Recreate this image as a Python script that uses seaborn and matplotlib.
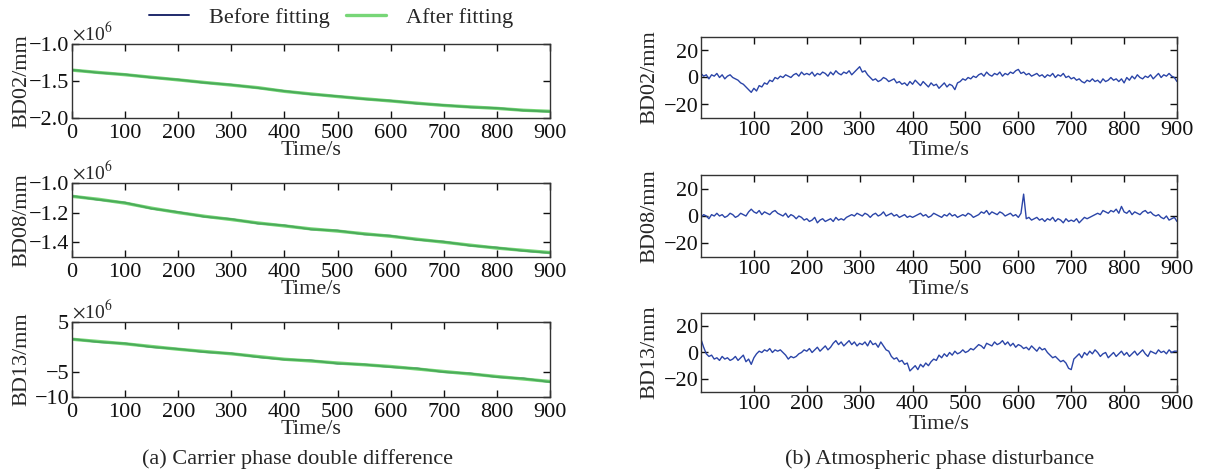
import numpy as np
import pandas as pd
import matplotlib
matplotlib.use("Agg")
import matplotlib.pyplot as plt
import seaborn as sns

# ---------------- data ----------------
# Left column: carrier phase double difference (units of 1e6 mm), sampled every 50 s
t_fit = list(range(0, 901, 50))
bd02_after = [-1.353, -1.385, -1.415, -1.45, -1.485, -1.52, -1.555, -1.59, -1.64, -1.675,
              -1.71, -1.74, -1.77, -1.80, -1.83, -1.85, -1.87, -1.895, -1.91]
bd02_before = [-1.350, -1.388, -1.412, -1.453, -1.482, -1.524, -1.551, -1.594, -1.636, -1.679,
               -1.706, -1.744, -1.767, -1.804, -1.826, -1.854, -1.866, -1.898, -1.913]
bd08_after = [-1.09, -1.11, -1.136, -1.17, -1.20, -1.225, -1.247, -1.27, -1.29, -1.31,
              -1.325, -1.343, -1.36, -1.38, -1.40, -1.42, -1.44, -1.455, -1.47]
bd08_before = [-1.088, -1.113, -1.133, -1.173, -1.197, -1.228, -1.244, -1.273, -1.287, -1.313,
               -1.322, -1.346, -1.357, -1.383, -1.397, -1.423, -1.437, -1.458, -1.472]
bd13_after = [1.55, 1.1, 0.64, 0.1, -0.45, -0.9, -1.36, -1.9, -2.45, -2.8,
              -3.2, -3.55, -3.9, -4.4, -4.9, -5.4, -5.9, -6.4, -6.9]
bd13_before = [1.6, 1.0, 0.7, 0.0, -0.4, -1.0, -1.3, -2.0, -2.5, -2.7,
               -3.3, -3.5, -4.0, -4.3, -5.0, -5.3, -6.0, -6.3, -7.0]

# Right column: atmospheric phase disturbance (mm), sampled every 5 s
t_atm = list(range(0, 901, 5))
bd02_atm = [3, 1, 2, -1, 2, 1, 3, 0, 2, -1, 1, 2, 0, -1, -2, -4, -5, -7, -9, -11,
            -8, -10, -6, -7, -4, -5, -2, -3, 0, -1, 1, 0, 2, 1, 0, 2, 3, 1, 4, 2,
            3, 2, 4, 1, 3, 2, 4, 3, 1, 4, 2, 5, 3, 2, 4, 3, 5, 2, 4, 6,
            8, 4, 5, 2, 0, -2, -1, -3, -2, 0, -1, -3, -2, -1, -4, -3, -5, -4, -6, -3,
            -5, -2, -4, -6, -3, -5, -7, -4, -6, -5, -8, -6, -4, -7, -5, -6, -9, -4, -3, -1,
            -2, 0, -1, 1, 0, 2, 3, 1, 4, 2, 1, 3, 2, 4, 1, 3, 2, 4, 3, 5,
            6, 3, 4, 2, 3, 1, 2, 3, 1, 2, 0, 2, 1, 3, 0, 2, 1, 3, 0, 1,
            -1, 0, -2, -1, -3, -4, -2, -3, -1, -3, -2, -4, -1, -3, -2, 0, -2, -1, -3, -1,
            -4, 0, -2, 1, -1, 2, 0, -1, 1, 0, 2, -1, 1, 3, 0, 2, 1, 3, 1, 0,
            -3]
bd08_atm = [-1, 1, 0, -2, 1, 0, 2, 0, 1, -1, 0, 2, 1, -1, 0, 2, 1, 0, 3, 5,
            3, 2, 4, 1, 3, 2, 1, 3, 4, 2, 1, 0, 2, -1, 1, 0, -2, 0, -1, -3,
            -2, -4, -3, -1, -5, -3, -2, -4, -3, -2, -4, -1, -3, -2, -3, -1, 0, 1, 0, 2,
            1, 0, 2, 1, -1, 1, 2, 0, 1, 3, 0, 1, 2, 0, 1, -1, 0, 1, -1, 0,
            -1, 0, 1, 2, 0, 1, -1, 0, 2, 1, 0, -1, 1, 0, 2, 0, 1, -1, 0, 1,
            0, 2, 1, -1, 0, 1, 3, 2, 4, 1, 3, 2, 1, 3, 2, 0, 1, 2, 0, 1,
            -1, 2, 16, -2, -1, -3, -2, -1, -3, -2, -4, -2, -3, -1, -4, -2, -3, -5, -2, -4,
            -3, -4, -2, -5, -3, -1, -2, -1, 0, 1, 2, 1, 4, 3, 2, 4, 3, 5, 2, 7,
            3, 2, 4, 1, 3, 2, 1, 3, 4, 2, 3, 1, 0, 1, -1, -2, 0, -3, -2, -1,
            -4]
bd13_atm = [10, 4, -1, -3, -2, -5, -4, -6, -3, -5, -4, -6, -5, -3, -6, -4, -2, -7, -5, -9,
            -4, -1, 1, 0, 2, 1, 3, 0, 2, 1, 2, 0, -2, -5, -3, -4, -3, -1, 0, 2,
            1, 3, 0, 2, 4, 1, 3, 5, 2, 4, 7, 9, 6, 8, 5, 7, 9, 6, 8, 5,
            7, 6, 8, 5, 9, 6, 7, 4, 8, 5, 2, 1, -3, -5, -4, -7, -6, -9, -8, -14,
            -12, -10, -13, -9, -11, -8, -10, -7, -5, -6, -2, -4, -1, -3, 0, -2, 1, -1, 0, 2,
            0, 1, 3, 2, 4, 6, 5, 3, 7, 6, 5, 8, 6, 7, 9, 6, 8, 5, 7, 4,
            6, 5, 3, 4, 2, 5, 3, 1, 4, 2, 3, 0, -2, -4, -3, -5, -7, -6, -8, -12,
            -13, -5, -3, -1, -4, 0, -2, 1, -1, 2, 0, -3, -1, 0, -4, -2, 0, -3, -1, 1,
            -2, 0, -3, -1, 1, -2, 0, 2, -1, -3, 1, 0, -1, 2, 0, 1, -1, 2, 0, 1,
            1]

names = ["BD02", "BD08", "BD13"]
left_before = [bd02_before, bd08_before, bd13_before]
left_after = [bd02_after, bd08_after, bd13_after]
right_series = [bd02_atm, bd08_atm, bd13_atm]
left_ylims = [(-2.0, -1.0), (-1.5, -1.0), (-10, 5)]
left_yticks = [[-2.0, -1.5, -1.0], [-1.4, -1.2, -1.0], [-10, -5, 5]]
left_yticklabels = [["\u22122.0", "\u22121.5", "\u22121.0"],
                    ["\u22121.4", "\u22121.2", "\u22121.0"],
                    ["\u221210", "\u22125", "5"]]
x_ticks_left = [0, 100, 200, 300, 400, 500, 600, 700, 800, 900]
x_ticks_right = [100, 200, 300, 400, 500, 600, 700, 800, 900]
right_yticks = [-20, 0, 20]

legend_labels = ["Before fitting", "After fitting"]
caption_a = "(a) Carrier phase double difference"
caption_b = "(b) Atmospheric phase disturbance"

# ---------------- style ----------------
sns.set_style("ticks")
plt.rcParams["font.family"] = ["Liberation Serif", "DejaVu Serif"]
plt.rcParams["mathtext.fontset"] = "stix"
plt.rcParams["axes.unicode_minus"] = True
FS = 16

W, H = 1210, 473
fig = plt.figure(figsize=(W / 100, H / 100), dpi=100)

def px_axes(x0, y0, x1, y1):
    return fig.add_axes([x0 / W, 1 - y1 / H, (x1 - x0) / W, (y1 - y0) / H])

left_rows = [(44, 118), (183, 257), (322, 397)]
right_rows = [(37, 118), (175, 257), (313, 392)]

c_before = "#1f2a6b"
c_after = "#55cc55"
c_atm = "#2b45a8"

def style_axes(ax, xpad=2, lpad=1):
    for s in ax.spines.values():
        s.set_color("#333333")
        s.set_linewidth(1.0)
    ax.tick_params(direction="in", top=True, right=True, length=5, width=1,
                   labelsize=FS, pad=2, colors="#111111")
    ax.tick_params(axis="x", pad=xpad)
    ax.set_xlabel("Time/s", fontsize=FS, labelpad=lpad)

for i in range(3):
    # left column
    y0, y1 = left_rows[i]
    ax = px_axes(72, y0, 550, y1)
    df = pd.DataFrame({"t": t_fit, "before": left_before[i], "after": left_after[i]})
    sns.lineplot(data=df, x="t", y="before", ax=ax, color=c_before, lw=1.4,
                 label=legend_labels[0] if i == 0 else None, legend=False)
    sns.lineplot(data=df, x="t", y="after", ax=ax, color=c_after, lw=2.4, alpha=0.8,
                 label=legend_labels[1] if i == 0 else None, legend=False)
    ax.set_xlim(0, 900)
    ax.set_ylim(*left_ylims[i])
    ax.set_xticks(x_ticks_left)
    ax.set_yticks(left_yticks[i])
    ax.set_yticklabels(left_yticklabels[i])
    style_axes(ax, xpad=4, lpad=-1)
    ax.set_ylabel(f"{names[i]}/mm", fontsize=FS)
    ax.yaxis.set_label_coords(-0.086, 0.5)
    ax.text(0.0, 1.0, r"$\times$10$^{6}$", transform=ax.transAxes, fontsize=14,
            ha="left", va="bottom")
    if i == 0:
        handles, labels = ax.get_legend_handles_labels()

    # right column
    y0, y1 = right_rows[i]
    axr = px_axes(701, y0, 1177, y1)
    dfr = pd.DataFrame({"t": t_atm, "v": right_series[i]})
    sns.lineplot(data=dfr, x="t", y="v", ax=axr, color=c_atm, lw=1.0)
    axr.set_xlim(0, 900)
    axr.set_ylim(-30, 30)
    axr.set_xticks(x_ticks_right)
    axr.set_yticks(right_yticks)
    axr.set_yticklabels(["\u221220", "0", "20"])
    style_axes(axr)
    axr.set_ylabel(f"{names[i]}/mm", fontsize=FS)
    axr.yaxis.set_label_coords(-0.088, 0.5)

fig.legend(handles, labels, loc="center", bbox_to_anchor=(331 / W, 1 - 18 / H),
           ncol=2, frameon=False, fontsize=FS, handlelength=1.8, columnspacing=0.7,
           handletextpad=0.9)
fig.text(298 / W, 1 - 459 / H, caption_a, ha="center", va="center", fontsize=FS)
fig.text(940 / W, 1 - 459 / H, caption_b, ha="center", va="center", fontsize=FS)

fig.savefig("out.png", dpi=100, facecolor="white")
